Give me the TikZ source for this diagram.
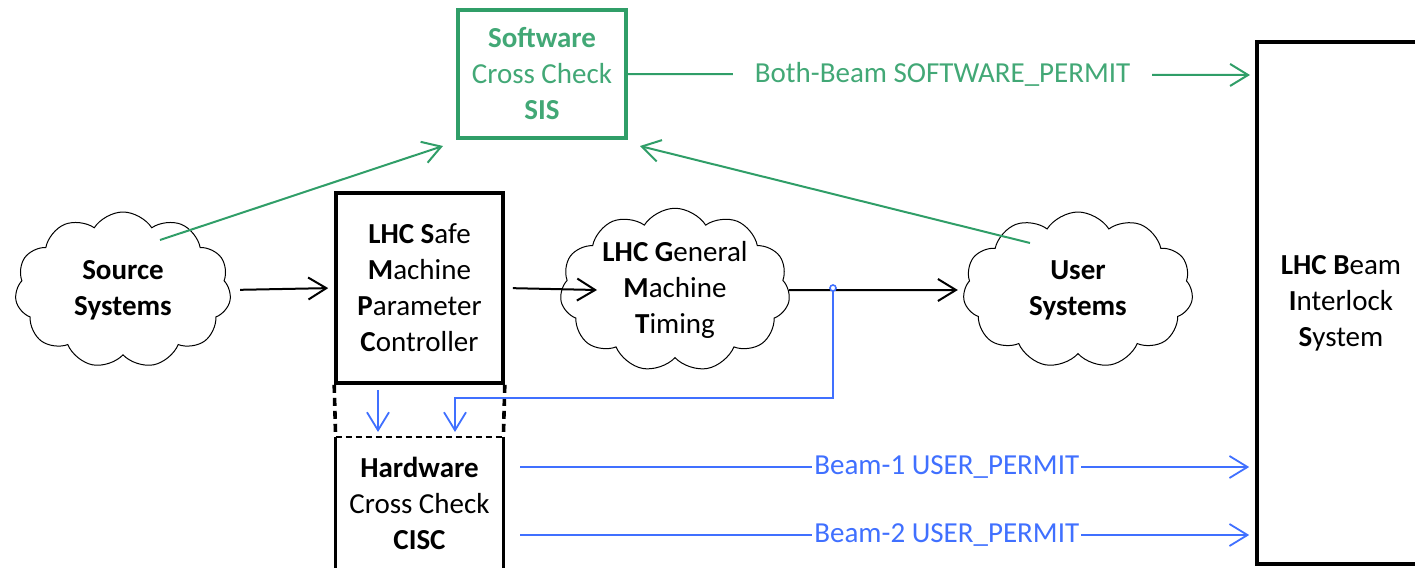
\documentclass[tikz,border=0pt]{standalone}
\usepackage{fontspec}
\setmainfont{Carlito}
\usetikzlibrary{arrows.meta,shapes.symbols}
\definecolor{sisgreen}{RGB}{48,158,104}
\definecolor{sistext}{RGB}{66,168,118}
\definecolor{permblue}{RGB}{64,112,255}
\tikzset{
  txt/.style={font=\fontsize{14.5}{18}\selectfont, align=center},
  thickbox/.style={draw=black, line width=1.8pt, inner sep=0pt, txt},
  cloudnode/.style={cloud, draw=black, line width=0.5pt, cloud puffs=11, cloud puff arc=115,
     cloud ignores aspect, minimum width=108pt, minimum height=78pt, inner sep=0pt, txt},
  blk/.style={draw=black, line width=1pt, -{Straight Barb[length=9pt,width=11pt,line width=1pt]}},
  grn/.style={draw=sisgreen, line width=1pt, -{Straight Barb[length=9pt,width=11pt,line width=1pt]}},
  blu/.style={draw=permblue, line width=0.9pt, -{Straight Barb[length=9pt,width=11pt,line width=0.9pt]}},
  bluesmall/.style={draw=permblue, line width=0.9pt, -{Straight Barb[length=7pt,width=9pt,line width=0.9pt]}},
  lbl/.style={fill=white, inner sep=1pt, font=\fontsize{14.5}{18}\selectfont}
}
\begin{document}
\begin{tikzpicture}[x=0.5pt,y=-0.5pt]
\useasboundingbox (0,0) rectangle (1415,568);
\clip (0,0) rectangle (1415,568);

% boxes
\node[thickbox, draw=sisgreen, text=sistext, minimum width=84pt, minimum height=64pt] (sis) at (542,74)
  {\bfseries Software\\Cross Check\\\bfseries SIS};
\node[thickbox, minimum width=83.5pt, minimum height=95pt] (smpc) at (419.5,288)
  {{\bfseries LHC S}afe\\{\bfseries M}achine\\{\bfseries P}arameter\\{\bfseries C}ontroller};
\node[txt, inner sep=0pt, minimum width=83.5pt, minimum height=83pt] (cisc) at (419.5,520) {};
\node[txt] (cisctext) at (419.5,503) {\bfseries Hardware\\Cross Check\\\bfseries CISC};
\draw[line width=1.8pt] (cisc.north west) -- (cisc.south west);
\draw[line width=1.8pt] (cisc.north east) -- (cisc.south east);
\draw[line width=1pt, dash pattern=on 3pt off 2pt] (cisc.north west) -- (cisc.north east);
\draw[line width=1.8pt, dash pattern=on 4pt off 2.5pt] (smpc.south west) -- (cisc.north west);
\draw[line width=1.8pt, dash pattern=on 4pt off 2.5pt] (smpc.south east) -- (cisc.north east);

\node[thickbox, minimum width=84pt, minimum height=261pt] (bis) at (1341,303)
  {{\bfseries LHC B}eam\\{\bfseries I}nterlock\\{\bfseries S}ystem};

% clouds
\node[cloudnode] (src) at (123,290) {\bfseries Source\\\bfseries Systems};
\node[cloudnode, minimum width=115pt] (gmt) at (675,290)
  {{\bfseries LHC G}eneral\\{\bfseries M}achine\\{\bfseries T}iming};
\node[cloudnode, minimum width=115pt] (usr) at (1078,290) {\bfseries User\\\bfseries Systems};

% coordinates
\coordinate (gmtin) at (597,290);
\coordinate (tap) at (833,288);
\coordinate (bend) at (833,398);
\coordinate (tapin) at (455,432);
\coordinate (s1) at (378,390);
\coordinate (s2) at (378,432);
\coordinate (b1s) at (512,467);
\coordinate (b2s) at (512,535);
\coordinate (srcg) at (160,240);
\coordinate (usrg) at (1030,243);
\coordinate (sisL) at (443,146);
\coordinate (sisR) at (640,146);
\coordinate (bbend) at (1250,75);

% black flow
\draw[blk, shorten <=5pt, shorten >=3pt] (src.east) -- (smpc.west);
\draw[blk, shorten <=4pt] (smpc.east) -- (gmtin);
\draw[blk, shorten >=3pt] (gmt.east) -- (usr.west);

% green
\draw[grn] (srcg) -- (sisL);
\draw[grn] (usrg) -- (sisR);
\draw[grn] (sis.east) -- node[lbl, text=sistext, inner xsep=11pt, pos=0.506] {Both-Beam SOFTWARE\_PERMIT} (bbend);

% blue
\draw[blu] (tap) -- (bend) -| (tapin);
\draw[permblue, line width=0.8pt, fill=white] (tap) circle (3);
\draw[blu] (s1) -- (s2);
\draw[blu, shorten <=4pt, shorten >=3pt] (b1s) -- node[lbl, text=permblue, pos=0.585] {Beam-1 USER\_PERMIT} (bis.west |- b1s);
\draw[blu, shorten <=4pt, shorten >=3pt] (b2s) -- node[lbl, text=permblue, pos=0.585] {Beam-2 USER\_PERMIT} (bis.west |- b2s);
\end{tikzpicture}
\end{document}
